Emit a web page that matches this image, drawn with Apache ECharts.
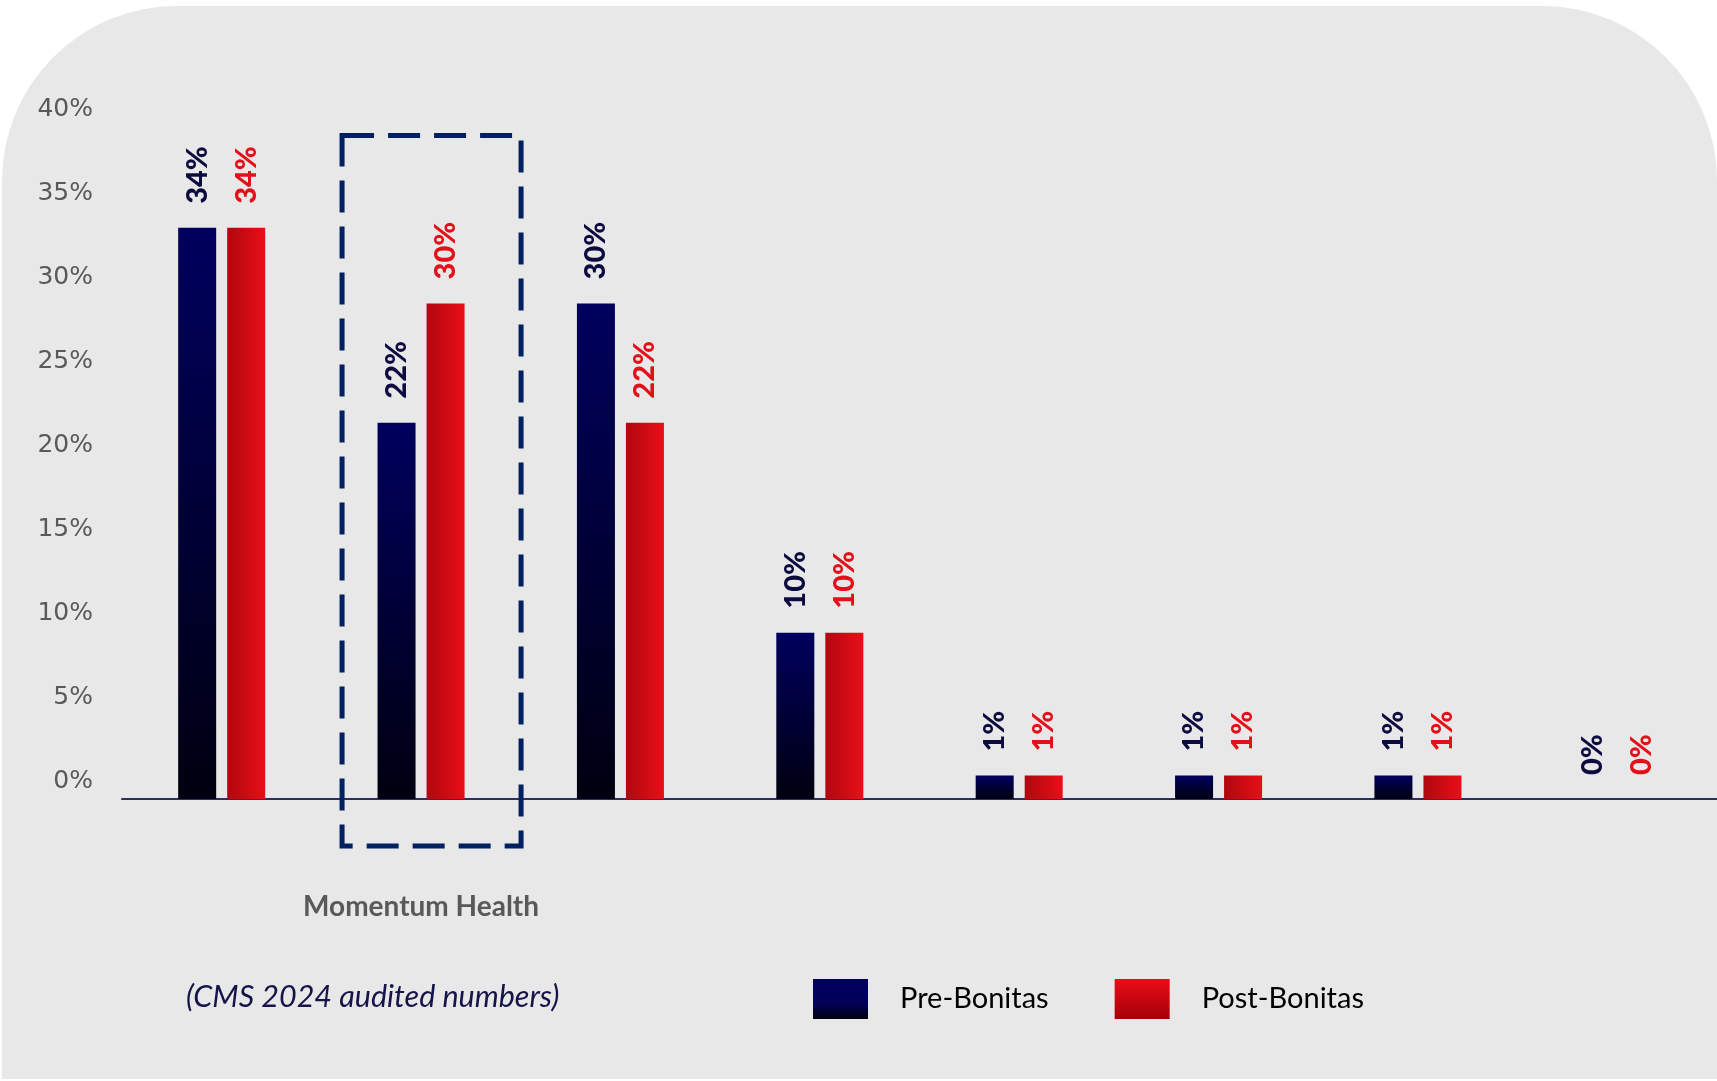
<!DOCTYPE html>
<html><head><meta charset="utf-8">
<script src="https://cdn.jsdelivr.net/npm/echarts@6/dist/echarts.min.js"></script>
<style>html,body{margin:0;padding:0;background:#fff;overflow:hidden}#c{width:1717px;height:1081px}</style>
</head><body><div id="c"></div>
<script>
// ---- data ----
const categories = ['', 'Momentum Health', '', '', '', '', '', ''];
const seriesNames = ['Pre-Bonitas', 'Post-Bonitas'];
const preBonitas = [34, 22.4, 29.5, 9.9, 1.4, 1.4, 1.4, 0];
const postBonitas = [34, 29.5, 22.4, 9.9, 1.4, 1.4, 1.4, 0];
const yTickLabels = ['0%', '5%', '10%', '15%', '20%', '25%', '30%', '35%', '40%'];
const noteText = '(CMS 2024 audited numbers)';

// ---- styles ----
const navyGrad = {type:'linear', x:0, y:0, x2:0, y2:1, colorStops:[{offset:0, color:'#00005e'}, {offset:1, color:'#000010'}]};
const redGrad = {type:'linear', x:0, y:0, x2:1, y2:0, colorStops:[{offset:0, color:'#b0070f'}, {offset:1, color:'#ea0e18'}]};
const navyLegend = {type:'linear', x:0, y:0, x2:0, y2:1, colorStops:[{offset:0, color:'#00005e'}, {offset:0.6, color:'#00005a'}, {offset:1, color:'#000010'}]};
const redLegend = {type:'linear', x:0, y:0, x2:0, y2:1, colorStops:[{offset:0, color:'#ec0c16'}, {offset:1, color:'#a20008'}]};

function labelCfg(color) {
  return {
    show: true, position: 'top', rotate: 90, align: 'left', verticalAlign: 'middle',
    distance: 24, color: color, fontFamily: 'Lato', fontWeight: 900, fontSize: 29,
    formatter: p => Math.round(p.value) + '%'
  };
}

const chart = echarts.init(document.getElementById('c'), null, {renderer: 'canvas'});
const option = {
  backgroundColor: '#ffffff',
  animation: false,
  grid: {left: 122, right: -28, top: 127, bottom: 282, containLabel: false},
  legend: {
    left: 808, top: 974, itemWidth: 55, itemHeight: 40, itemGap: 66, icon: 'rect',
    textStyle: {fontFamily: 'Lato', fontSize: 29, color: '#000', padding: [0, 0, 0, 27]},
    data: [
      {name: seriesNames[0], itemStyle: {color: navyLegend}},
      {name: seriesNames[1], itemStyle: {color: redLegend}}
    ]
  },
  xAxis: {
    type: 'category', data: categories,
    axisLine: {show: true, lineStyle: {color: '#2e2e60', width: 2}},
    axisTick: {show: false},
    axisLabel: {margin: 94, fontFamily: 'Lato', fontWeight: 'bold', fontSize: 28, color: '#595959', interval: 0}
  },
  yAxis: {
    type: 'value', min: 0, max: 40, interval: 5,
    axisLine: {show: false}, axisTick: {show: false}, splitLine: {show: false},
    axisLabel: {
      margin: 29, fontFamily: 'DejaVu Sans', fontSize: 25, color: '#595959',
      verticalAlign: 'bottom', lineHeight: 36,
      formatter: (v, i) => yTickLabels[i]
    }
  },
  series: [
    {name: seriesNames[0], type: 'bar', data: preBonitas, barWidth: 38, barGap: '29%',
     itemStyle: {color: navyGrad}, label: labelCfg('#0b0b40'), z: 3},
    {name: seriesNames[1], type: 'bar', data: postBonitas, barWidth: 38, barGap: '29%',
     itemStyle: {color: redGrad}, label: labelCfg('#e3101a'), z: 3}
  ],
  graphic: [
    {id: 'panel', type: 'rect', z: -10, silent: true,
     shape: {x: 2, y: 6, width: 1715, height: 1073, r: [175, 175, 0, 0]},
     style: {fill: '#e8e8e8'}},
    {id: 'note', type: 'text', left: 186, top: 982, z: 5,
     style: {text: noteText, fontFamily: 'Lato', fontStyle: 'italic', fontSize: 30.5, fill: '#14144a'}}
  ]
};
chart.setOption(option);

// dashed highlight box around "Momentum Health" group, placed via axis scales
const base = chart.convertToPixel({gridIndex: 0}, [1, 0]);
const topP = chart.convertToPixel({gridIndex: 0}, [1, 39.5]);
chart.setOption({
  graphic: [
    {id: 'panel'}, {id: 'note'},
    {id: 'box', type: 'rect', z: 10, silent: true,
     shape: {x: base[0] - 79, y: topP[1], width: 179, height: base[1] + 47 - topP[1]},
     style: {fill: 'none', stroke: '#002060', lineWidth: 5, lineDash: [32, 14]}}
  ]
});
</script>
</body></html>
